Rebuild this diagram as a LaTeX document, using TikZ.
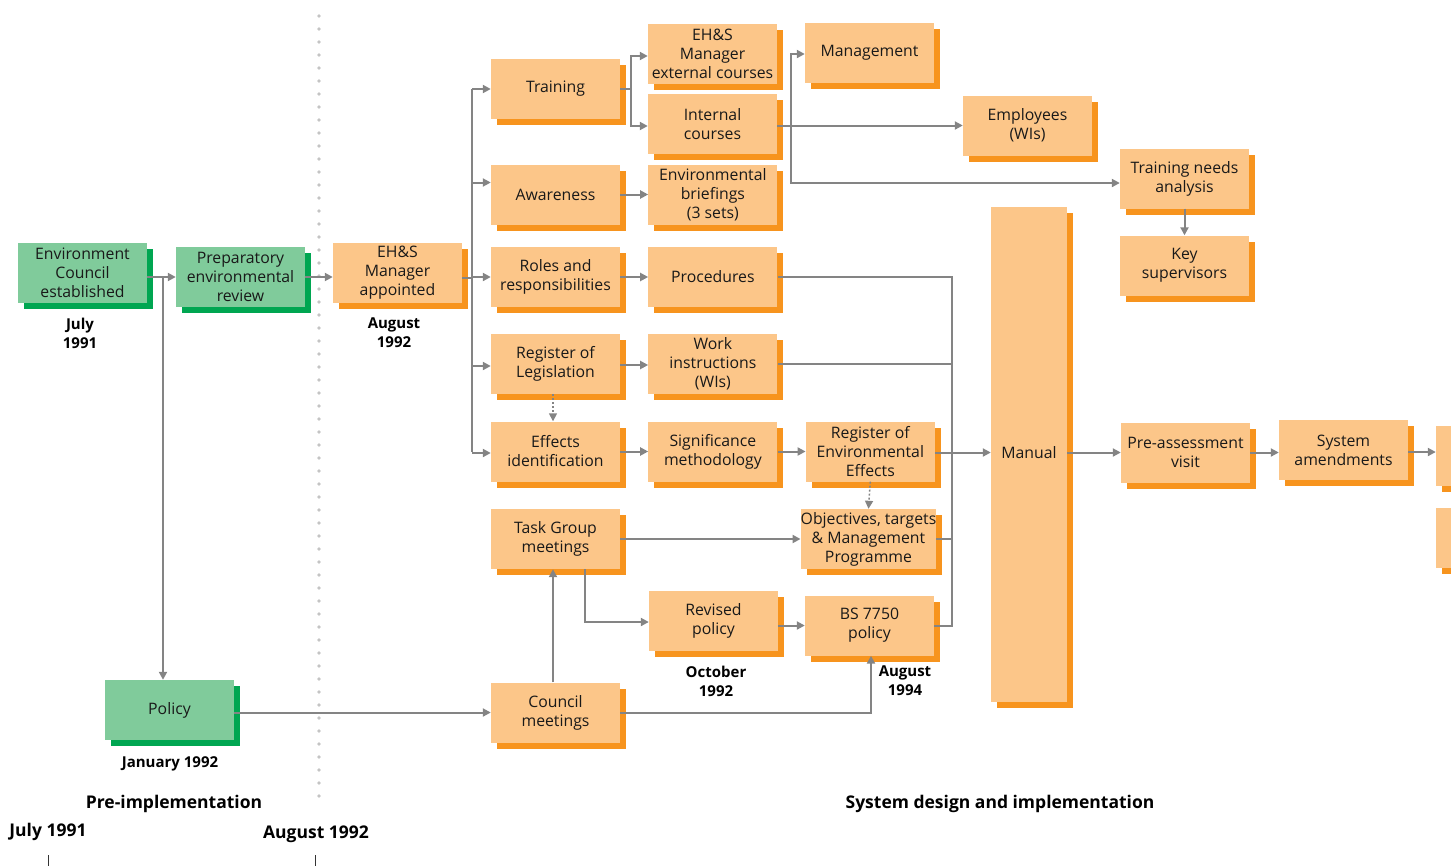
\documentclass[tikz,border=0pt]{standalone}
\usepackage{fontspec}
\setmainfont{Open Sans}
\usetikzlibrary{arrows.meta, positioning, shadows}

\definecolor{boxOr}{RGB}{252,198,137}
\definecolor{boxOrDk}{RGB}{247,148,30}
\definecolor{boxGr}{RGB}{128,203,155}
\definecolor{boxGrDk}{RGB}{0,166,81}
\definecolor{wireGray}{RGB}{132,132,132}
\definecolor{sepGray}{RGB}{196,196,196}

\begin{document}
\begin{tikzpicture}[
    x=1pt, y=-1pt,
    every node/.style = {font=\fontsize{15.8}{19}\selectfont},
    ems/.style = {
        rectangle,
        fill=boxOr,
        minimum width=129pt,
        minimum height=60pt,
        inner sep=0pt,
        align=center,
        text=black!90,
        drop shadow={shadow xshift=6pt, shadow yshift=-6pt, fill=boxOrDk, opacity=1}
    },
    pre/.style = {
        ems,
        fill=boxGr,
        drop shadow={shadow xshift=6pt, shadow yshift=-6pt, fill=boxGrDk, opacity=1}
    },
    wire/.style = {line width=2pt, color=wireGray},
    link/.style = {wire, -{Triangle[length=8pt,width=8pt]}},
    dotlink/.style = {link, line width=1.5pt, dash pattern=on 2pt off 2pt},
    datelbl/.style = {align=center, font=\bfseries\fontsize{15}{19}\selectfont},
    phaselbl/.style = {font=\bfseries\fontsize{17.5}{21}\selectfont}
]
\clip (0,0) rectangle (1451,865);

%% Pre-implementation phase
\node[pre] (envcouncil) at (82.5,273)  {Environment\\Council\\established};
\node[pre] (prepreview) at (240.5,277) {Preparatory\\environmental\\review};
\node[pre] (policy)     at (169.5,710) {Policy};

%% Dotted phase separator
\foreach \y in {16,29,...,804}
    \fill[sepGray] (319,\y) circle (1.8pt);

%% System design column 1
\node[ems] (ehsmgr)    at (397.5,273) {EH\&S\\Manager\\appointed};
\node[ems] (training)  at (555.5,89)  {Training};
\node[ems] (awareness) at (555.5,194.5) {Awareness};
\node[ems] (roles)     at (555.5,277) {Roles and\\responsibilities};
\node[ems] (reglegis)  at (555.5,364) {Register of\\Legislation};
\node[ems] (effects)   at (555.5,451.5) {Effects\\identification};
\node[ems] (taskgroup) at (555.5,539) {Task Group\\meetings};
\node[ems] (council)   at (555.5,712.5) {Council\\meetings};

%% Column 2
\node[ems] (extcourses) at (712.5,54)  {EH\&S\\Manager\\external courses};
\node[ems] (intcourses) at (712.5,124) {Internal\\courses};
\node[ems, right=28pt of awareness] (briefings)  {Environmental\\briefings\\(3 sets)};
\node[ems, right=28pt of roles]     (procedures) {Procedures};
\node[ems, right=28pt of reglegis]  (workinstr)  {Work\\instructions\\(WIs)};
\node[ems, right=28pt of effects]   (signif)     {Significance\\methodology};
\node[ems] (revpolicy) at (713.5,620.5) {Revised\\policy};

%% Column 3
\node[ems] (management) at (869.5,52.5) {Management};
\node[ems, right=28pt of signif] (regeffects) {Register of\\Environmental\\Effects};
\node[ems] (objectives) at (868.5,539) {Objectives, targets\\\& Management\\Programme};
\node[ems] (bspolicy)   at (869.5,625.5) {BS 7750\\policy};

%% Right part
\node[ems] (employees)  at (1027.5,125.5) {Employees\\(WIs)};
\node[ems] (tnanalysis) at (1184.5,178.5) {Training needs\\analysis};
\node[ems] (keysup)     at (1184.5,265.5) {Key\\supervisors};
\node[ems, minimum width=76pt, minimum height=495pt] (manual) at (1029,454.5) {\raisebox{4pt}{Manual}};
\node[ems] (preassess)  at (1185.5,452.5) {Pre-assessment\\visit};
\node[ems] (sysamend)   at (1343.5,450) {System\\amendments};
\node[ems] (edgeA)      at (1500.5,455.5) {};
\node[ems] (edgeB)      at (1500.5,538) {};

%% Dates
\node[datelbl] (dJul91) at (80,333)   {July\\1991};
\node[datelbl] (dAug92) at (394,333)  {August\\1992};
\node[datelbl] (dJan92) at (170,764)  {January 1992};
\node[datelbl] (dOct92) at (716,681)  {October\\1992};
\node[datelbl] (dAug94) at (905,681)  {August\\1994};

%% Phases and time axis
\node[phaselbl] (prephase) at (174,804)  {Pre-implementation};
\node[phaselbl] (sysphase) at (1000,804) {System design and implementation};
\node[phaselbl] (tJul91)   at (48,832)   {July 1991};
\node[phaselbl] (tAug92)   at (316,834)  {August 1992};
\draw[line width=1pt, black!80] (48,855) -- (48,866);
\draw[line width=1pt, black!80] (315,855) -- (315,866);

%% Arrows: pre-implementation
\coordinate (jPol) at (163,277);
\draw[link] (envcouncil.east |- prepreview.west) -- (prepreview.west);
\draw[link] (jPol) -- (jPol |- policy.north);
\draw[link] (prepreview.east) -- (prepreview.east -| ehsmgr.west);
\draw[link] (policy.east |- council.west) -- (council.west);

%% Arrows: bus from EH&S Manager
\coordinate (busA) at (472,278);
\coordinate (awIn) at ([yshift=12pt]awareness.west);
\draw[wire] (ehsmgr.east |- busA) -- (busA);
\draw[wire] (busA |- training) -- (busA |- effects);
\draw[link] (busA |- training)   -- (training.west);
\draw[link] (busA |- awIn)       -- (awIn);
\draw[link] (busA |- roles.west) -- (roles.west);
\draw[link] ([yshift=-2pt]busA |- reglegis.west) -- ([yshift=-2pt]reglegis.west);
\draw[link] ([yshift=-1.5pt]busA |- effects.west) -- ([yshift=-1.5pt]effects.west);

%% Arrows: training branch
\coordinate (trSplit) at (631,89);
\coordinate (mgSplit) at (791,126);
\draw[wire] (training.east) -- (trSplit);
\draw[link] (trSplit) |- ([yshift=-2pt]extcourses.west);
\draw[link] (trSplit) |- ([yshift=-2pt]intcourses.west);
\draw[link] (intcourses.east |- employees.west) -- (employees.west);
\draw[link] (mgSplit) |- ([yshift=-1.5pt]management.west);
\draw[link] (mgSplit) |- ([yshift=-4.5pt]tnanalysis.west);
\draw[link] (tnanalysis.south) -- (keysup.north);

%% Arrows: rows
\draw[link] (awareness.east) -- (awareness.east -| briefings.west);
\draw[link] (roles.east) -- (roles.east -| procedures.west);
\draw[link] ([yshift=-1pt]reglegis.east) -- ([yshift=-1pt]reglegis.east -| workinstr.west);
\draw[link] (effects.east) -- (effects.east -| signif.west);
\draw[link] (signif.east |- regeffects.west) -- (regeffects.west);
\draw[dotlink] ([xshift=-2.5pt]reglegis.south) -- ([xshift=-2.5pt]reglegis.south |- effects.north);
\draw[dotlink] (regeffects.south) -- (objectives.north);
\draw[link] (taskgroup.east) -- (taskgroup.east -| objectives.west);
\draw[link] ([xshift=29.5pt]taskgroup.south) |- ([yshift=-1.5pt]revpolicy.west);
\draw[link] ([xshift=-2.5pt]council.north) -- ([xshift=-2.5pt]council.north |- taskgroup.south);
\draw[link] (revpolicy.east |- bspolicy.west) -- (bspolicy.west);
\draw[link] (council.east) -| ([xshift=1.5pt]bspolicy.south);

%% Arrows: into the manual
\coordinate (busB) at (952,452);
\draw[wire] (procedures.east) -| (busB |- bspolicy.east) -- (bspolicy.east);
\draw[wire] (workinstr.east) -- (workinstr.east -| busB);
\draw[wire] (objectives.east) -- (objectives.east -| busB);
\draw[link] ([yshift=-1pt]regeffects.east) -- ([yshift=-1pt]regeffects.east -| manual.west);

%% Arrows: assessment
\draw[link] (manual.east |- preassess.west) -- (preassess.west);
\draw[link] (preassess.east) -- (preassess.east -| sysamend.west);
\draw[link] ([yshift=-2pt]sysamend.east) -- ([yshift=-2pt]sysamend.east -| edgeA.west);

\end{tikzpicture}
\end{document}
